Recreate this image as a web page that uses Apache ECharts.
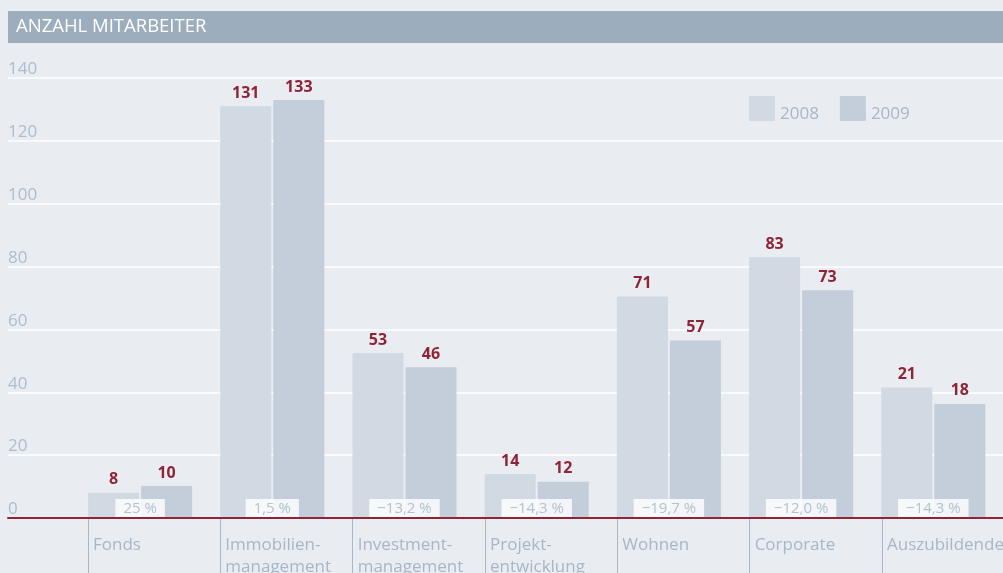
<!DOCTYPE html>
<html>
<head>
<meta charset="utf-8">
<script src="https://cdn.jsdelivr.net/npm/echarts@6/dist/echarts.min.js"></script>
<style>
  html, body { margin: 0; padding: 0; background: #e9ecf1; }
  #chart { width: 1003px; height: 573px; }
</style>
</head>
<body>
<div id="chart"></div>
<script>
const categories = ['Fonds', 'Immobilien-\nmanagement', 'Investment-\nmanagement', 'Projekt-\nentwicklung', 'Wohnen', 'Corporate', 'Auszubildende'];
// bar heights as drawn against the axis
const heights2008 = [8, 131, 52.5, 14, 70.5, 83, 41.5];
const heights2009 = [10.2, 133, 48, 11.5, 56.5, 72.5, 36.3];
// numbers printed above the bars
const labels2008 = [8, 131, 53, 14, 71, 83, 21];
const labels2009 = [10, 133, 46, 12, 57, 73, 18];
const changes = ['25 %', '1,5 %', '\u221213,2 %', '\u221214,3 %', '\u221219,7 %', '\u221212,0 %', '\u221214,3 %'];
const yTicks = [0, 20, 40, 60, 80, 100, 120, 140];

const font = 'Open Sans';
const grey = '#a7b7c8';
const red = '#8e2438';

const chart = echarts.init(document.getElementById('chart'));
chart.setOption({
  backgroundColor: '#e9ecf1',
  animation: false,
  textStyle: { fontFamily: font },
  graphic: [
    { type: 'rect', shape: { x: 8, y: 11, width: 995, height: 32 }, style: { fill: '#9caebe' } },
    { type: 'text', left: 16, top: 17, style: { text: 'ANZAHL MITARBEITER', fill: '#fff', fontSize: 18.5, fontFamily: font } }
  ],
  legend: {
    left: 749, top: 96, padding: 0,
    itemWidth: 26, itemHeight: 25, itemGap: 21,
    icon: 'rect',
    formatter: '{a|{name}}',
    textStyle: { color: grey, fontSize: 17, fontFamily: font,
      rich: { a: { color: grey, fontSize: 17, fontFamily: font, padding: [12, 0, 0, 0] } } },
    data: ['2008', '2009']
  },
  grid: [
    { left: 8, right: 0, top: 78, bottom: 55, outerBoundsMode: 'none' },
    { left: 74, right: 3.6, top: 78, bottom: 55, outerBoundsMode: 'none' },
    { left: 88, right: 121, top: 78, bottom: 55, outerBoundsMode: 'none' }
  ],
  xAxis: [
    { gridIndex: 0, type: 'value', min: 0, max: 1, axisLabel: { show: false }, axisTick: { show: false }, splitLine: { show: false },
      axisLine: { show: true, lineStyle: { color: red, width: 2 } }, z: 5 },
    { gridIndex: 1, type: 'category', data: categories, show: false },
    { gridIndex: 2, type: 'category', data: categories, boundaryGap: false,
      axisLine: { show: false },
      axisTick: { show: true, length: 55, lineStyle: { color: '#a9b9c9', width: 1 } },
      axisLabel: { color: grey, fontSize: 17, align: 'left', verticalAlign: 'top', margin: 16, padding: [0, 0, 0, 5], lineHeight: 22, interval: 0 } }
  ],
  yAxis: [
    { gridIndex: 0, type: 'value', min: 0, max: 140, interval: 20,
      axisLine: { show: false }, axisTick: { show: false },
      axisLabel: { inside: true, margin: 0, color: '#aebdcc', fontSize: 17, verticalAlign: 'bottom', padding: [0, 0, 0, 0],
        formatter: v => yTicks.includes(v) ? String(v) : '' },
      splitLine: { show: true, lineStyle: { color: '#ffffff', width: 1.5 } } },
    { gridIndex: 1, type: 'value', min: 0, max: 140, show: false },
    { gridIndex: 2, type: 'value', min: 0, max: 140, show: false }
  ],
  series: [
    { name: '2008', type: 'bar', xAxisIndex: 1, yAxisIndex: 1, data: heights2008, barWidth: 51, barGap: '4%',
      itemStyle: { color: '#d1d9e2' },
      label: { show: true, position: 'top', distance: 5, color: red, fontSize: 16, fontWeight: 'bold',
        formatter: p => labels2008[p.dataIndex] } },
    { name: '2009', type: 'bar', xAxisIndex: 1, yAxisIndex: 1, data: heights2009, barWidth: 51, barGap: '4%',
      itemStyle: { color: '#c3ceda' },
      label: { show: true, position: 'top', distance: 5, color: red, fontSize: 16, fontWeight: 'bold',
        formatter: p => labels2009[p.dataIndex] } },
    { type: 'scatter', xAxisIndex: 1, yAxisIndex: 1, data: changes.map(() => 0), symbolSize: 0, z: 10,
      label: { show: true, position: 'top', distance: 1, color: '#a3b4c6', fontSize: 15, backgroundColor: '#ffffff',
        padding: [2, 8, 1, 8], formatter: p => changes[p.dataIndex] } }
  ]
});
</script>
</body>
</html>
